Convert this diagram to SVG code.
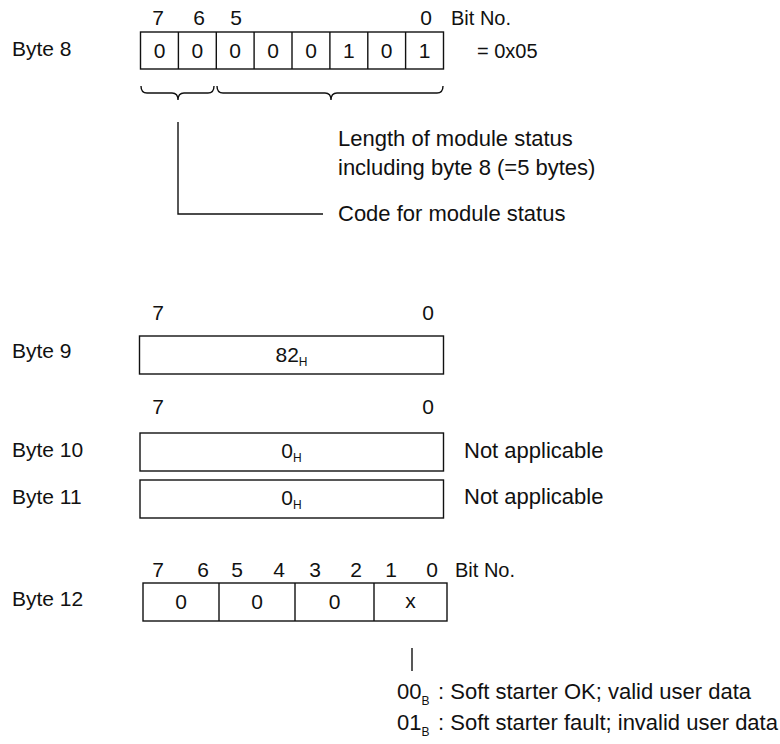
<svg xmlns="http://www.w3.org/2000/svg" width="780" height="744" viewBox="0 0 780 744">
<style>
text{font-family:"Liberation Sans",Arial,sans-serif;font-size:21px;fill:#111}
.m{text-anchor:middle}
.s20{font-size:20px}
.s22{font-size:22px}
.sub{font-size:12px}
.box{fill:#fff;stroke:#111;stroke-width:1.4}
.ln{fill:none;stroke:#111;stroke-width:1.4}
</style>
<rect width="780" height="744" fill="#fff"/>

<g id="byte8">
<text class="m" x="158" y="25">7</text>
<text class="m" x="199" y="25">6</text>
<text class="m" x="236" y="25">5</text>
<text class="m" x="426" y="25">0</text>
<text class="s20" x="451" y="25">Bit No.</text>
<text x="12" y="56">Byte 8</text>
<rect class="box" x="140.5" y="32" width="303" height="37"/>
<path class="ln" d="M178.4 32V69M216.3 32V69M254.1 32V69M292 32V69M329.9 32V69M367.8 32V69M405.6 32V69"/>
<text class="m" x="159.5" y="58">0</text>
<text class="m" x="197.3" y="58">0</text>
<text class="m" x="235.2" y="58">0</text>
<text class="m" x="273" y="58">0</text>
<text class="m" x="311" y="58">0</text>
<text class="m" x="348.8" y="58">1</text>
<text class="m" x="386.7" y="58">0</text>
<text class="m" x="424.5" y="58">1</text>
<text class="s20" x="477" y="58">= 0x05</text>
</g>

<g id="connectors">
<path class="ln" d="M141 86Q141 93 147 93L172 93Q178 93 178 100Q178 93 184 93L208 93Q214 93 214 86"/>
<path class="ln" d="M217 86Q217 93 223 93L325 93Q331 93 331 100Q331 93 337 93L437 93Q443 93 443 86"/>
<path class="ln" d="M178 122V214H323"/>
<path class="ln" d="M412 648V671"/>
</g>

<g id="length-note">
<text class="s22" x="338" y="146">Length of module status</text>
<text class="s22" x="338" y="175">including byte 8 (=5 bytes)</text>
</g>
<g id="code-note">
<text class="s22" x="338" y="221">Code for module status</text>
</g>

<g id="byte9">
<text class="m" x="158" y="320">7</text>
<text class="m" x="428" y="320">0</text>
<text x="12" y="358">Byte 9</text>
<rect class="box" x="139.5" y="336" width="304" height="38"/>
<text class="m" x="291.5" y="362">82<tspan class="sub" dy="4">H</tspan></text>
</g>

<g id="byte10">
<text class="m" x="158" y="414">7</text>
<text class="m" x="428" y="414">0</text>
<text x="12" y="457">Byte 10</text>
<rect class="box" x="140" y="433" width="303.5" height="38"/>
<text class="m" x="291.5" y="458">0<tspan class="sub" dy="4">H</tspan></text>
<text class="s22" x="464" y="458">Not applicable</text>
</g>

<g id="byte11">
<text x="12" y="504">Byte 11</text>
<rect class="box" x="140" y="480" width="303.5" height="38"/>
<text class="m" x="291.5" y="505">0<tspan class="sub" dy="4">H</tspan></text>
<text class="s22" x="464" y="504">Not applicable</text>
</g>

<g id="byte12">
<text class="m" x="158" y="577">7</text>
<text class="m" x="203" y="577">6</text>
<text class="m" x="237" y="577">5</text>
<text class="m" x="279" y="577">4</text>
<text class="m" x="315" y="577">3</text>
<text class="m" x="356" y="577">2</text>
<text class="m" x="391" y="577">1</text>
<text class="m" x="432" y="577">0</text>
<text class="s20" x="455" y="577">Bit No.</text>
<text x="12" y="606">Byte 12</text>
<rect class="box" x="143" y="583" width="304" height="38"/>
<path class="ln" d="M219 583V621M295 583V621M374 583V621"/>
<text class="m" x="181" y="609">0</text>
<text class="m" x="257" y="609">0</text>
<text class="m" x="334.5" y="609">0</text>
<text class="m" x="410.5" y="608">x</text>
</g>

<g id="legend">
<text class="s22" x="397" y="699">00<tspan class="sub" dy="6">B</tspan></text>
<text class="s22" x="438" y="699">: Soft starter OK; valid user data</text>
<text class="s22" x="397" y="730">01<tspan class="sub" dy="6">B</tspan></text>
<text class="s22" x="438" y="730">: Soft starter fault; invalid user data</text>
</g>
</svg>
